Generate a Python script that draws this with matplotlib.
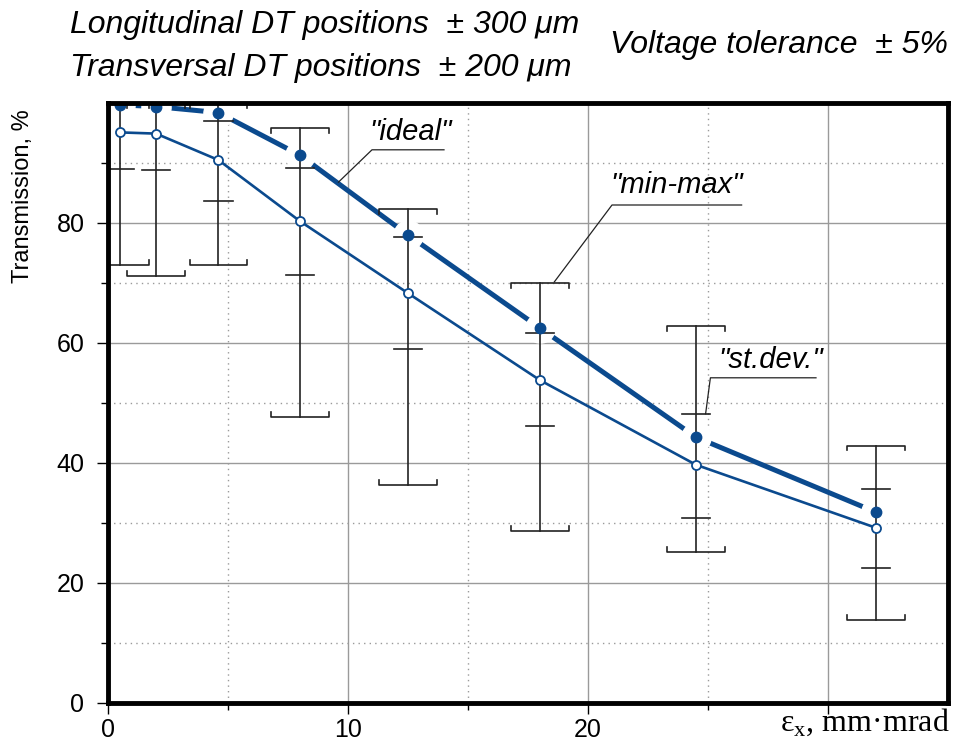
import numpy as np
import matplotlib.pyplot as plt

# Emittance points and transmission values
x_pts = [0.5, 2.0, 4.6, 8.0, 12.5, 18.0, 24.5, 32.0]
ideal = [99.7, 99.4, 98.4, 91.3, 78.0, 62.5, 44.3, 31.8]
mean = [95.1, 94.9, 90.5, 80.3, 68.3, 53.8, 39.7, 29.2]
sd_lo = [89.0, 88.8, 83.7, 71.4, 59.0, 46.2, 30.9, 22.5]
sd_hi = [101.2, 101.0, 97.0, 89.2, 77.6, 61.6, 48.1, 35.7]
mm_lo = [73.0, 71.2, 73.0, 47.7, 36.3, 28.7, 25.2, 13.9]
mm_hi = [100.0, 100.0, 100.0, 95.8, 82.3, 70.0, 62.8, 42.9]
x_ticklabels = ['0', '10', '20', '']
y_ticklabels = ['0', '20', '40', '60', '80']

blue = '#0b4a8e'
sans = ['Liberation Sans', 'DejaVu Sans']

fig = plt.figure(figsize=(9.54, 7.53), dpi=100)
ax = fig.add_axes([108 / 954, 1 - 703 / 753, 840 / 954, 600 / 753])
ax.set_xlim(0, 35)
ax.set_ylim(0, 100)

# grid: solid on major, dotted on minor
ax.set_xticks([0, 10, 20, 30])
ax.set_xticks([5, 15, 25], minor=True)
ax.set_yticks([0, 20, 40, 60, 80])
ax.set_yticks([10, 30, 50, 70, 90], minor=True)
ax.grid(which='major', color='#9a9a9a', lw=1.0, ls='-')
ax.grid(which='minor', color='#9a9a9a', lw=1.0, ls=(0, (1, 3)))
ax.set_axisbelow(True)

ax.set_xticklabels(x_ticklabels, fontfamily=sans)
ax.set_yticklabels(y_ticklabels, fontfamily=sans)
ax.tick_params(which='major', length=8, width=1, direction='out', labelsize=18)
ax.tick_params(which='minor', length=5, width=1, direction='out')
ax.tick_params(axis='x', which='major', pad=3)
ax.tick_params(axis='y', which='major', pad=9)
for s in ax.spines.values():
    s.set_linewidth(3.5)
    s.set_zorder(10)

# ideal: thick line broken around markers
ax.plot(x_pts, ideal, color=blue, lw=3.6, zorder=3)
ax.plot(x_pts, ideal, 'o', ms=21, mfc='white', mec='white', zorder=4)

# mean line with open markers
ax.plot(x_pts, mean, color=blue, lw=1.9, zorder=5)

# error bars
mm_w, sd_w, tk = 1.2, 0.6, 0.8
for i, xv in enumerate(x_pts):
    ax.plot([xv, xv], [mm_lo[i], mm_hi[i]], color='#222222', lw=1.2, zorder=6)
    ax.plot([xv - mm_w, xv - mm_w, xv + mm_w, xv + mm_w],
            [mm_hi[i] - tk, mm_hi[i], mm_hi[i], mm_hi[i] - tk], color='#222222', lw=1.2, zorder=6)
    ax.plot([xv - mm_w, xv - mm_w, xv + mm_w, xv + mm_w],
            [mm_lo[i] + tk, mm_lo[i], mm_lo[i], mm_lo[i] + tk], color='#222222', lw=1.2, zorder=6)
    for yv in (sd_lo[i], sd_hi[i]):
        ax.plot([xv - sd_w, xv + sd_w], [yv, yv], color='#222222', lw=1.2, zorder=6)

ax.plot(x_pts, ideal, 'o', ms=7.5, mfc=blue, mec=blue, zorder=7)
ax.plot(x_pts, mean, 'o', ms=6.5, mfc='white', mec=blue, mew=1.3, zorder=7)

# labels with leader lines
notes = [('"ideal"', 12.6, 95.2, 11.0, 14.0, 92.2, 9.6, 86.8),
         ('"min-max"', 23.7, 86.4, 21.0, 26.4, 83.0, 18.6, 70.2),
         ('"st.dev."', 27.6, 57.1, 25.1, 29.5, 54.2, 24.9, 48.2)]
for txt, tx, ty, ux0, ux1, uy, lx, ly in notes:
    ax.text(tx, ty, txt, style='italic', fontfamily=sans, fontsize=21,
            ha='center', va='center', zorder=8)
    ax.plot([lx, ux0, ux1], [ly, uy, uy], color='#222222', lw=0.9, zorder=8)

ax.set_ylabel('Transmission, %', fontfamily=sans, fontsize=17)
ax.yaxis.set_label_coords(-0.088, 0.845)
ax.text(1.002, -0.032, r'ε$_\mathregular{x}$, mm·mrad', transform=ax.transAxes,
        ha='right', va='center', fontfamily='Liberation Serif', fontsize=23)

# header notes
fig.text(0.073, 0.967, 'Longitudinal DT positions  ± 300 μm', style='italic',
         fontfamily=sans, fontsize=23, va='center')
fig.text(0.073, 0.91, 'Transversal DT positions  ± 200 μm', style='italic',
         fontfamily=sans, fontsize=23, va='center')
fig.text(0.994, 0.94, 'Voltage tolerance  ± 5%', style='italic',
         fontfamily=sans, fontsize=23, va='center', ha='right')

fig.savefig('out.png', dpi=100)
